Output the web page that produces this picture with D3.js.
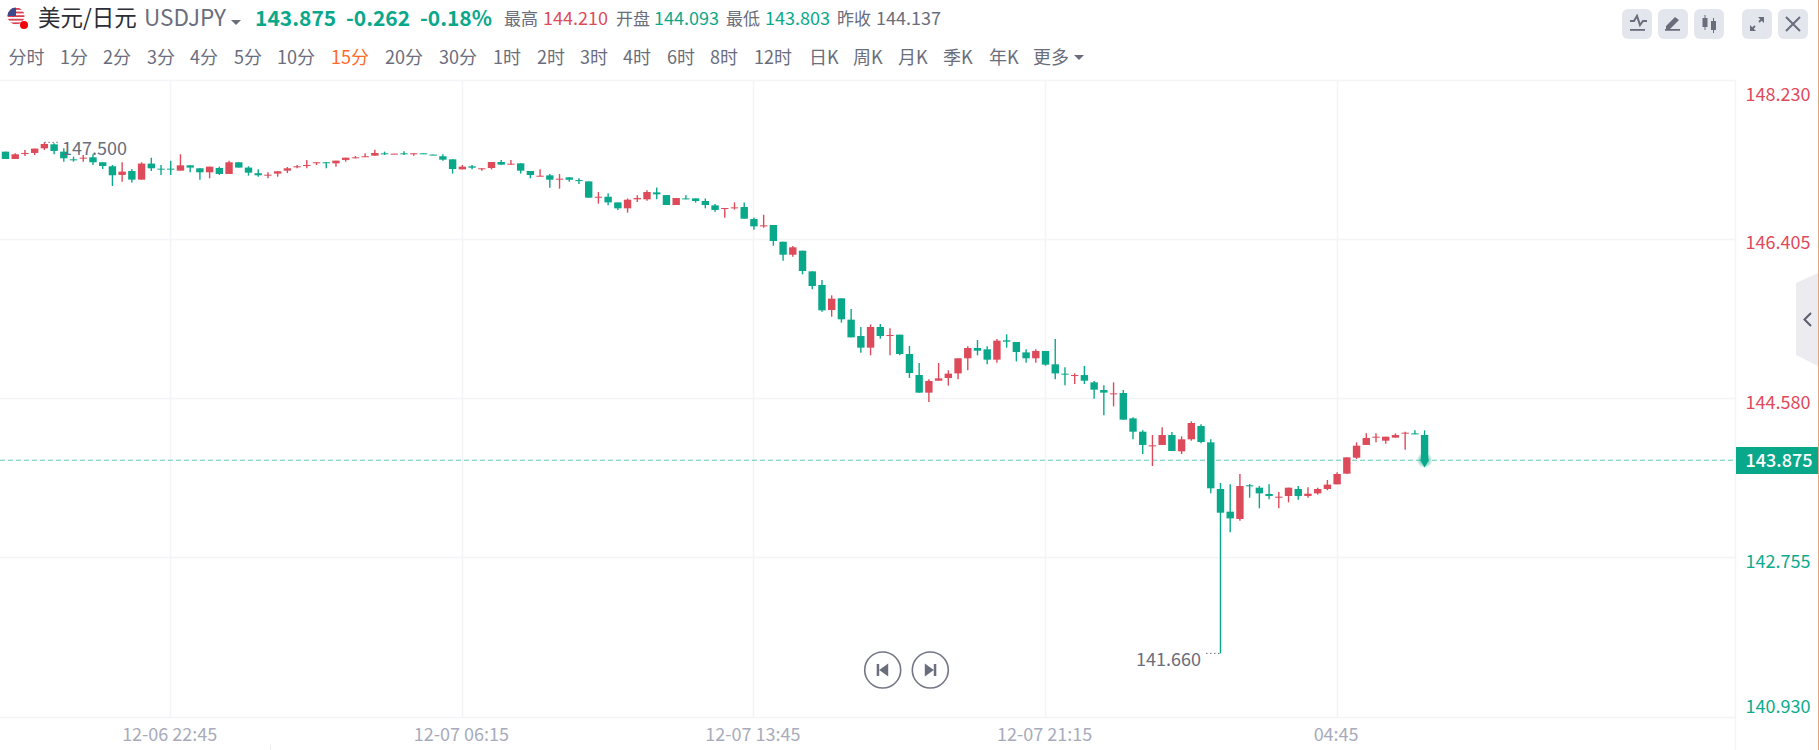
<!DOCTYPE html>
<html><head><meta charset="utf-8">
<script src="https://cdn.jsdelivr.net/npm/d3@7"></script>
<style>html,body{margin:0;padding:0;background:#fff;overflow:hidden}svg{display:block}text{font-family:"Noto Sans CJK SC","Noto Sans",sans-serif}</style>
</head><body><svg id="c" width="1819" height="750"></svg>
<script>
const opens=[147.414,147.330,147.387,147.399,147.452,147.498,147.414,147.326,147.334,147.349,147.292,147.246,147.147,147.192,147.093,147.277,147.219,147.219,147.196,147.257,147.223,147.177,147.227,147.158,147.292,147.231,147.166,147.143,147.162,147.196,147.234,147.250,147.284,147.292,147.280,147.319,147.338,147.353,147.368,147.395,147.387,147.395,147.387,147.395,147.380,147.361,147.326,147.211,147.246,147.215,147.226,147.295,147.265,147.280,147.192,147.131,147.142,147.096,147.119,147.088,147.073,146.890,146.897,146.832,146.764,146.867,146.867,146.947,146.916,146.802,146.878,146.878,146.848,146.798,146.757,146.764,146.779,146.641,146.557,146.573,146.381,146.232,146.278,146.041,145.885,145.598,145.732,145.487,145.300,145.166,145.403,145.303,145.315,145.093,144.852,144.650,144.787,144.818,144.871,145.044,145.162,145.147,145.028,145.250,145.231,145.112,145.044,145.128,144.975,144.868,144.845,144.852,144.768,144.680,144.634,144.646,144.355,144.202,144.034,144.050,144.164,143.977,144.115,144.267,144.080,143.545,143.285,143.201,143.587,143.560,143.488,143.445,143.465,143.545,143.465,143.495,143.545,143.598,143.721,143.904,144.050,144.134,144.099,144.134,144.180,144.183,144.164];
const highs=[147.414,147.395,147.433,147.449,147.521,147.510,147.452,147.357,147.376,147.384,147.292,147.261,147.292,147.215,147.292,147.345,147.261,147.311,147.384,147.257,147.223,147.242,147.242,147.311,147.292,147.246,147.212,147.177,147.189,147.238,147.261,147.319,147.292,147.292,147.311,147.345,147.364,147.395,147.437,147.414,147.391,147.418,147.395,147.395,147.380,147.384,147.326,147.261,147.261,147.223,147.295,147.318,147.318,147.280,147.192,147.211,147.157,147.157,147.119,147.108,147.073,146.951,146.936,146.832,146.878,146.913,146.970,147.004,146.916,146.882,146.913,146.878,146.878,146.814,146.768,146.832,146.832,146.660,146.691,146.573,146.381,146.332,146.278,146.041,145.942,145.766,145.732,145.609,145.403,145.433,145.437,145.388,145.315,145.185,144.990,144.803,144.990,144.906,145.044,145.181,145.254,145.181,145.265,145.319,145.231,145.147,145.147,145.128,145.265,144.940,144.871,144.956,144.784,144.734,144.768,144.680,144.367,144.218,144.164,144.252,144.199,144.149,144.321,144.287,144.115,143.614,143.598,143.717,143.602,143.579,143.598,143.510,143.560,143.579,143.564,143.560,143.648,143.736,143.908,144.080,144.183,144.183,144.145,144.183,144.202,144.218,144.218];
const lows=[147.330,147.330,147.364,147.376,147.433,147.384,147.299,147.299,147.299,147.261,147.215,147.020,147.070,147.059,147.093,147.192,147.147,147.147,147.196,147.177,147.093,147.108,147.147,147.158,147.231,147.139,147.127,147.108,147.127,147.169,147.223,147.223,147.261,147.223,147.242,147.299,147.338,147.353,147.368,147.376,147.387,147.376,147.368,147.391,147.376,147.311,147.162,147.211,147.211,147.196,147.211,147.265,147.265,147.162,147.108,147.131,147.000,146.989,147.069,147.043,146.886,146.817,146.798,146.745,146.714,146.836,146.852,146.867,146.802,146.802,146.867,146.829,146.764,146.726,146.657,146.749,146.645,146.519,146.542,146.335,146.163,146.210,146.007,145.835,145.579,145.521,145.453,145.284,145.109,145.078,145.269,145.078,145.078,144.818,144.650,144.543,144.787,144.730,144.803,144.906,145.078,144.975,144.994,145.166,145.009,144.994,144.994,144.959,144.803,144.734,144.749,144.749,144.581,144.390,144.493,144.340,144.115,143.946,143.809,144.050,143.981,143.946,144.099,144.069,143.495,141.660,143.048,143.182,143.445,143.323,143.426,143.323,143.392,143.423,143.445,143.480,143.530,143.598,143.721,143.889,144.050,144.080,144.065,144.134,143.996,144.172,143.809];
const closes=[147.330,147.384,147.399,147.449,147.502,147.422,147.338,147.319,147.345,147.292,147.250,147.143,147.185,147.093,147.277,147.223,147.212,147.212,147.257,147.231,147.177,147.242,147.158,147.292,147.231,147.173,147.143,147.150,147.189,147.223,147.246,147.261,147.292,147.284,147.311,147.345,147.349,147.361,147.399,147.387,147.391,147.387,147.395,147.391,147.376,147.322,147.215,147.242,147.230,147.223,147.295,147.265,147.276,147.196,147.146,147.138,147.092,147.104,147.092,147.081,146.886,146.897,146.832,146.764,146.863,146.882,146.951,146.924,146.802,146.882,146.871,146.848,146.802,146.745,146.768,146.775,146.645,146.557,146.569,146.389,146.232,146.317,146.045,145.873,145.594,145.728,145.491,145.284,145.166,145.403,145.300,145.311,145.093,144.875,144.650,144.784,144.814,144.868,145.044,145.162,145.131,145.028,145.246,145.235,145.116,145.044,145.128,144.971,144.871,144.860,144.852,144.787,144.684,144.650,144.642,144.340,144.202,144.050,144.046,144.164,143.981,144.115,144.302,144.084,143.553,143.273,143.208,143.579,143.575,143.495,143.465,143.457,143.560,143.465,143.491,143.545,143.595,143.717,143.908,144.042,144.130,144.145,144.145,144.164,144.191,144.172,143.875];
const priceTicks=[148.230,146.405,144.580,142.755,140.930];
const timeTickIdx=[17,47,77,107,137];
const timeTickLabels=["12-06 22:45","12-07 06:15","12-07 13:45","12-07 21:15","04:45"];
const intervals=["分时","1分","2分","3分","4分","5分","10分","15分","20分","30分","1时","2时","3时","4时","6时","8时","12时","日K","周K","月K","季K","年K","更多"];
const intervalX=[8.5,60,103,147,190,234,277,331,385,439,493,537,580,623,667,710,754,809,853,898,943,989,1033];
const lastPrice=143.875, highLabel=147.500, lowLabel=141.660;

const GREEN="#0aa88b",RED="#dd4b5b",GREY="#6a6d7c",AXG="#0cab8d",AXR="#df4a5b";
const svg=d3.select("#c");
const defs=svg.append("defs");
const rg=defs.append("radialGradient").attr("id","glow");
rg.append("stop").attr("offset","0%").attr("stop-color",GREEN).attr("stop-opacity",.75);
rg.append("stop").attr("offset","55%").attr("stop-color",GREEN).attr("stop-opacity",.45);
rg.append("stop").attr("offset","100%").attr("stop-color",GREEN).attr("stop-opacity",0);

const x=d3.scaleLinear().domain([0,146]).range([5.5,1424.6]);
const y=d3.scaleLinear().domain([148.230,140.930]).range([80.5,717]);
const plotR=1735.5;
const GRID="#f3f4f7";
const g=svg.append("g");
// grid
g.selectAll(".gy").data(priceTicks).join("line").attr("x1",0).attr("x2",plotR)
 .attr("y1",d=>Math.round(y(d)-.5)+.5).attr("y2",d=>Math.round(y(d)-.5)+.5).attr("stroke",GRID).attr("stroke-width",1.5);
g.selectAll(".gx").data(timeTickIdx).join("line").attr("y1",80).attr("y2",717)
 .attr("x1",d=>Math.floor(x(d))+.5).attr("x2",d=>Math.floor(x(d))+.5).attr("stroke",GRID).attr("stroke-width",1.5);
g.append("line").attr("x1",plotR).attr("x2",plotR).attr("y1",80).attr("y2",750).attr("stroke",GRID).attr("stroke-width",1.5);
g.append("line").attr("x1",270.5).attr("x2",270.5).attr("y1",745).attr("y2",750).attr("stroke","#eceef2");

// axis labels
const tickDy=[14,2.5,3.5,3.5,-11];
g.selectAll(".yl").data(priceTicks).join("text").attr("x",1745.5).attr("y",(d,i)=>y(d)+tickDy[i]+6.5)
 .attr("font-size",18).attr("fill",d=>d>lastPrice?AXR:AXG).text(d=>d.toFixed(3));
g.selectAll(".xl").data(timeTickIdx).join("text").attr("x",d=>x(d)-1).attr("y",741).attr("text-anchor","middle")
 .attr("font-size",18).attr("fill","#a8abbb").text((d,i)=>timeTickLabels[i]);

// last price line
g.append("line").attr("x1",0).attr("x2",plotR).attr("y1",y(lastPrice)).attr("y2",y(lastPrice))
 .attr("stroke","#62cbb8").attr("stroke-width",1).attr("stroke-dasharray","5 3");

// candles
const idx=d3.range(opens.length);
const color=i=>closes[i]>=opens[i]&&i!==43?RED:GREEN;
g.selectAll(".w").data(idx).join("line").attr("x1",i=>x(i)).attr("x2",i=>x(i))
 .attr("y1",i=>y(highs[i])).attr("y2",i=>y(lows[i])).attr("stroke",color).attr("stroke-width",1.4);
g.selectAll(".b").data(idx).join("rect").attr("x",i=>x(i)-3.7).attr("width",7.4)
 .attr("y",i=>y(Math.max(opens[i],closes[i]))).attr("height",i=>Math.max(1,Math.abs(y(opens[i])-y(closes[i])))).attr("fill",color);

// glow at last
g.append("circle").attr("cx",x(146)).attr("cy",y(lastPrice)).attr("r",8).attr("fill","url(#glow)");
g.append("path").attr("d",d3.symbol(d3.symbolDiamond,60)).attr("transform",`translate(${x(146)},${y(lastPrice)})`).attr("fill",GREEN);

// hi/lo labels
const hiY=y(highs[4]), loY=y(lowLabel);
g.append("line").attr("x1",x(4)).attr("x2",60).attr("y1",hiY).attr("y2",hiY).attr("stroke",GREY).attr("stroke-dasharray","1.5 2.5").attr("stroke-width",1);
g.append("text").attr("x",62).attr("y",155).attr("font-size",18).attr("fill",GREY).text(highLabel.toFixed(3));
g.append("line").attr("x1",1206).attr("x2",x(125)).attr("y1",loY).attr("y2",loY).attr("stroke",GREY).attr("stroke-dasharray","1.5 2.5").attr("stroke-width",1);
g.append("text").attr("x",1136).attr("y",665.5).attr("font-size",18).attr("fill",GREY).text(lowLabel.toFixed(3));

// badge
g.append("rect").attr("x",1736).attr("y",447).attr("width",82).attr("height",27).attr("fill",GREEN);
g.append("text").attr("x",1745.5).attr("y",466.8).attr("font-size",18).attr("font-weight",500).attr("fill","#fff").text(lastPrice.toFixed(3));

// header
const hdr=svg.append("g");
defs.append("clipPath").attr("id","fc").append("circle").attr("cx",16).attr("cy",16).attr("r",8.5);
const fl=hdr.append("g").attr("clip-path","url(#fc)");
fl.append("rect").attr("x",7).attr("y",7).attr("width",18).attr("height",18).attr("fill","#fff");
d3.range(5).forEach(i=>fl.append("rect").attr("x",7).attr("y",8+i*3.6).attr("width",18).attr("height",1.8).attr("fill","#d8414f"));
fl.append("rect").attr("x",7).attr("y",7).attr("width",9).attr("height",9).attr("fill","#3c4a8c");
hdr.append("circle").attr("cx",24).attr("cy",25).attr("r",4).attr("fill","#f40009");
function T(x0,y0,s,size,fill,w){const t=hdr.append("text").attr("x",x0).attr("y",y0).attr("font-size",size).attr("fill",fill).text(s);if(w)t.attr("font-weight",w);return t;}
T(38,26,"美元/日元",22.500,"#2c2e36");
T(144,26,"USDJPY",22.500,GREY);
hdr.append("path").attr("d","M231 20h10l-5 5z").attr("fill",GREY);
T(255,26,"143.875",21,GREEN,700);
T(346,26,"-0.262",21,GREEN,700);
T(420,26,"-0.18%",21,GREEN,700);
T(504,25,"最高",17,GREY);T(543,25,"144.210",18,RED);
T(616,25,"开盘",17,GREY);T(654,25,"144.093",18,GREEN);
T(726,25,"最低",17,GREY);T(765,25,"143.803",18,GREEN);
T(837,25,"昨收",17,GREY);T(876,25,"144.137",18,GREY);
// interval row
hdr.selectAll(".iv").data(intervals).join("text").attr("x",(d,i)=>intervalX[i]).attr("y",63.5).attr("font-size",18)
 .attr("fill",d=>d==="15分"?"#ff6a2c":GREY).text(d=>d);
hdr.append("path").attr("d","M1074 55h10l-5 5z").attr("fill",GREY);

// toolbar
const btnX=[1622,1658,1694,1742,1778];
hdr.selectAll(".btn").data(btnX).join("rect").attr("x",d=>d).attr("y",9).attr("width",30).attr("height",30).attr("rx",6).attr("fill","#e4e6ed");
hdr.append("path").attr("d","M1630 21h4l3-5 3 9 3-4h4").attr("fill","none").attr("stroke",GREY).attr("stroke-width",2);
hdr.append("rect").attr("x",1630).attr("y",29).attr("width",15).attr("height",1.8).attr("fill",GREY);
hdr.append("path").attr("d","M1666 26l9-9 4 3-9 9h-4zM1665 29h15v1.8h-15z").attr("fill",GREY);
hdr.append("path").attr("d","M1702.5 18h5v9h-5zM1704.5 15h1v15h-1zM1711 21h5v9h-5zM1713 18h1v15h-1z").attr("fill",GREY);
hdr.append("path").attr("d","M1751 30l4-4M1763 18l-4 4").attr("stroke",GREY).attr("stroke-width",1.8);
hdr.append("path").attr("d","M1750 25v6h6zM1764 23v-6h-6z").attr("fill",GREY);
hdr.append("path").attr("d","M1786 17l14 14M1800 17l-14 14").attr("stroke",GREY).attr("stroke-width",2);

// side handle
hdr.append("path").attr("d","M1818 273L1796 283V355L1818 366Z").attr("fill","#ebebf0");
hdr.append("path").attr("d","M1811 313l-6.500 6.500 6.500 6.500").attr("fill","none").attr("stroke","#5a5d6c").attr("stroke-width",2);
// right edge
hdr.append("line").attr("x1",1818.5).attr("x2",1818.5).attr("y1",0).attr("y2",750).attr("stroke","#e0a57c");

// nav buttons
[882.7,930.3].forEach((cx,i)=>{
 hdr.append("circle").attr("cx",cx).attr("cy",670).attr("r",18).attr("fill","#fff").attr("stroke","#737687").attr("stroke-width",1.6);
 const d=i===0?`M${cx-6} 664h2.500v12h-2.500zM${cx-3.5} 670l9-6.500v13z`:`M${cx+6} 664h-2.500v12h2.500zM${cx+3.5} 670l-9-6.500v13z`;
 hdr.append("path").attr("d",d).attr("fill","#6a6d7c");
});
</script></body></html>
